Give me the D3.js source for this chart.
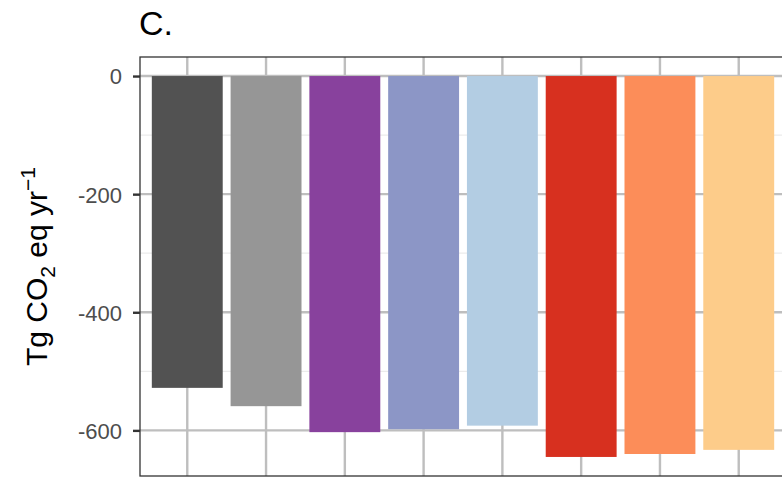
<!DOCTYPE html>
<html>
<head>
<meta charset="utf-8">
<script src="https://cdn.jsdelivr.net/npm/d3@7"></script>
<style>
  html, body { margin: 0; padding: 0; background: #fff; }
  svg { display: block; font-family: "Liberation Sans", Arial, sans-serif; }
</style>
</head>
<body>
<svg id="chart" width="782" height="478"></svg>
<script>
// Emission change per scenario (Tg CO2 eq per year)
const categories = ["S1", "S2", "S3", "S4", "S5", "S6", "S7", "S8"];
const values = [-528, -559, -603, -598, -592, -645, -640, -633];
const colors = ["#525252", "#969696", "#88419d", "#8c96c6", "#b3cde3", "#d7301f", "#fc8d59", "#fdcc8a"];
const yTicks = [0, -200, -400, -600];
const yMinorTicks = [-100, -300, -500];
const panelTitle = "C.";

const svg = d3.select("#chart");
const panel = { left: 140, right: 786, top: 57, bottom: 476 };

// Discrete x axis with 0.6-unit padding on each side
const xPos = d3.scaleLinear()
  .domain([0.4, categories.length + 0.6])
  .range([panel.left, panel.right]);
const xCenter = c => xPos(categories.indexOf(c) + 1);
const barW = xPos(1.9) - xPos(1);

// y domain expanded by 5% of the data span
const lo = Math.min(0, d3.min(values)), hi = Math.max(0, d3.max(values));
const pad = (hi - lo) * 0.05;
const y = d3.scaleLinear().domain([lo - pad, hi + pad]).range([panel.bottom, panel.top]);

const clipId = "panel-clip";
svg.append("clipPath").attr("id", clipId)
  .append("rect")
  .attr("x", panel.left).attr("y", panel.top)
  .attr("width", panel.right - panel.left).attr("height", panel.bottom - panel.top);

const grid = svg.append("g").attr("clip-path", `url(#${clipId})`);

// minor horizontal gridlines
grid.selectAll("line.minor").data(yMinorTicks).join("line")
  .attr("class", "minor")
  .attr("x1", panel.left).attr("x2", panel.right)
  .attr("y1", d => y(d)).attr("y2", d => y(d))
  .attr("stroke", "#ebebeb").attr("stroke-width", 1.2);

// major horizontal gridlines
grid.selectAll("line.majory").data(yTicks).join("line")
  .attr("class", "majory")
  .attr("x1", panel.left).attr("x2", panel.right)
  .attr("y1", d => y(d)).attr("y2", d => y(d))
  .attr("stroke", "#bebebe").attr("stroke-width", 2.4);

// vertical gridlines at each category
grid.selectAll("line.majorx").data(categories).join("line")
  .attr("class", "majorx")
  .attr("x1", d => xCenter(d)).attr("x2", d => xCenter(d))
  .attr("y1", panel.top).attr("y2", panel.bottom)
  .attr("stroke", "#bebebe").attr("stroke-width", 2.4);

// bars
grid.selectAll("rect.bar").data(values).join("rect")
  .attr("class", "bar")
  .attr("x", (d, i) => xCenter(categories[i]) - barW / 2)
  .attr("width", barW)
  .attr("y", d => y(Math.max(0, d)))
  .attr("height", d => Math.abs(y(d) - y(0)))
  .attr("fill", (d, i) => colors[i]);

// panel border
svg.append("rect")
  .attr("x", panel.left).attr("y", panel.top)
  .attr("width", panel.right - panel.left).attr("height", panel.bottom - panel.top)
  .attr("fill", "none").attr("stroke", "#333333").attr("stroke-width", 1.3);

// y axis
const yAxis = d3.axisLeft(y).tickValues(yTicks).tickSize(7).tickPadding(11).tickFormat(d => String(d));
const gy = svg.append("g").attr("transform", `translate(${panel.left},0)`).call(yAxis);
gy.attr("font-size", null).attr("font-family", null);
gy.select(".domain").remove();
gy.selectAll(".tick line").attr("stroke", "#333333").attr("stroke-width", 2.4);
gy.selectAll(".tick text")
  .attr("fill", "#4d4d4d")
  .attr("dy", "0.36em")
  .style("font-size", "22px");

// y axis title with subscript and superscript
const yt = svg.append("text")
  .attr("transform", `translate(47,${(panel.top + panel.bottom) / 2}) rotate(-90)`)
  .attr("text-anchor", "middle")
  .attr("fill", "#000")
  .style("font-size", "30px");
yt.append("tspan").text("Tg CO");
yt.append("tspan").text("2").attr("dy", 8).style("font-size", "21px");
yt.append("tspan").text(" eq yr").attr("dy", -8);
yt.append("tspan").text("\u22121").attr("dy", -12).style("font-size", "21px");

// panel title
svg.append("text")
  .attr("x", 139).attr("y", 35)
  .attr("fill", "#000")
  .style("font-size", "34px")
  .text(panelTitle);
</script>
</body>
</html>
